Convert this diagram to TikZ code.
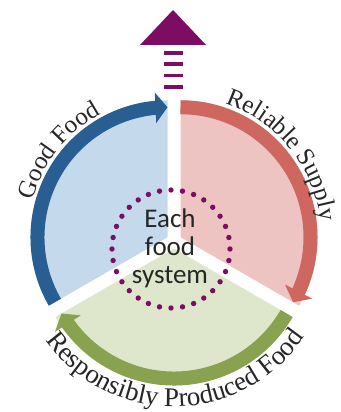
\documentclass[tikz,border=0pt]{standalone}
\usepackage{fontspec}
\newfontfamily\bodyfont{Carlito}
\newfontfamily\labelfont{Liberation Serif}
\usetikzlibrary{arrows.meta,bending,decorations.text,calc}
\definecolor{gfblue}{HTML}{285E91}
\definecolor{gfbluelight}{HTML}{C5D9ED}
\definecolor{rsred}{HTML}{CE6760}
\definecolor{rsredlight}{HTML}{EEC4C2}
\definecolor{rpgreen}{HTML}{89A250}
\definecolor{rpgreenlight}{HTML}{DEE7CC}
\definecolor{plum}{HTML}{7D0C64}
\begin{document}
\begin{tikzpicture}[x=1pt,y=1pt,
    band/.style={line width=14pt,-{Triangle[width=30pt,length=12pt]}}]
  \useasboundingbox (0,0) rectangle (340,412);
  \coordinate (b) at (167.5,174.75);
  \coordinate (r) at (180.5,174.75);
  \coordinate (g) at (174,163.5);
  \fill[gfbluelight](b)--+(90:137)arc[start angle=90,end angle=210,radius=137pt]--cycle;
  \fill[rsredlight](r)--+(-30:137)arc[start angle=-30,end angle=90,radius=137pt]--cycle;
  \fill[rpgreenlight](g)--+(210:137)arc[start angle=210,end angle=330,radius=137pt]--cycle;
  \draw[band,gfblue]($(b)+(210:130)$)arc[start angle=210,end angle=90,radius=130pt];
  \draw[band,rsred]($(r)+(90:130)$)arc[start angle=90,end angle=-30,radius=130pt];
  \draw[band,rpgreen]($(g)+(330:130)$)arc[start angle=330,end angle=210,radius=130pt];
  \foreach \i in {1,...,32}{
    \fill[plum](171,163)++(\i*11.25:59)circle(2.7pt);
  }
  \node[align=center,font=\bodyfont\fontsize{27}{28}\selectfont,text=black!85](core)at(170,164){Each\\food\\system};
  \fill[plum](140,367)--(206,367)--(173,402)--cycle;
  \foreach \y in {325,336.5,348,359}{
    \fill[plum](164,\y-1.6)rectangle(183,\y+1.6);
  }
  \path[decorate,decoration={text along path,text align=center,
    text={|\labelfont\fontsize{25}{28}\selectfont\color{black!85}|Good Food}}]
    ($(b)+(191.5:140)$)arc[start angle=191.5,end angle=91.5,radius=140pt];
  \path[decorate,decoration={text along path,text align=center,
    text={|\labelfont\fontsize{25}{28}\selectfont\color{black!85}|Reliable Supply}}]
    ($(r)+(89:141)$)arc[start angle=89,end angle=-11,radius=141pt];
  \path[decorate,decoration={text along path,text align=center,
    text={|\labelfont\fontsize{27}{30}\selectfont\color{black!85}|Responsibly Produced Food}}]
    ($(g)+(200.7:158)$)arc[start angle=200.7,end angle=340.7,radius=158pt];
\end{tikzpicture}
\end{document}
